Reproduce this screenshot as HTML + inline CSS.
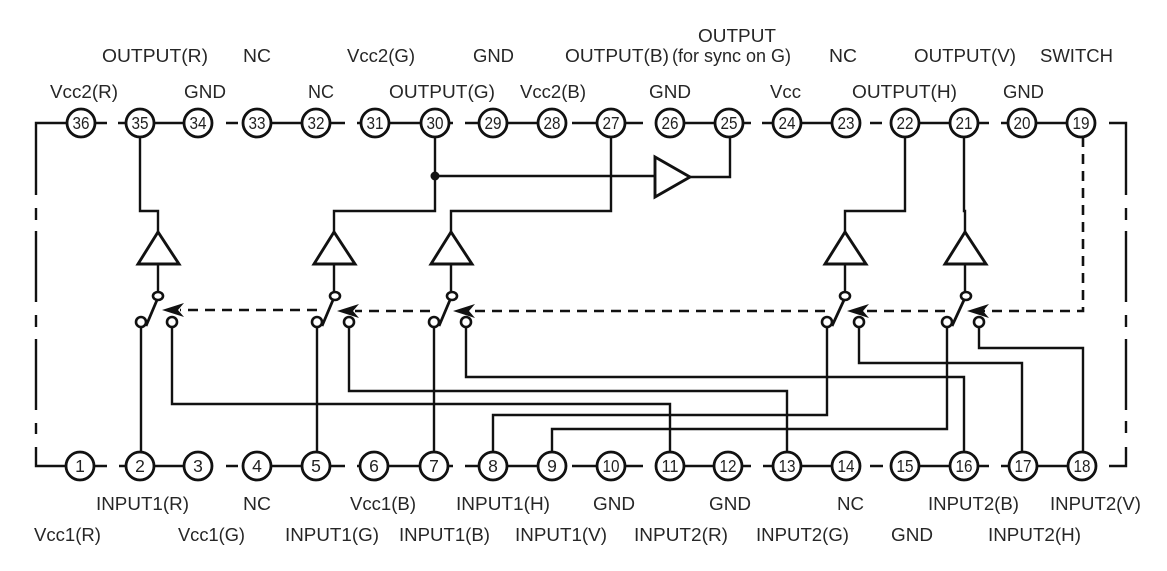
<!DOCTYPE html>
<html>
<head>
<meta charset="utf-8">
<style>
html,body{margin:0;padding:0;background:#fff;width:1167px;height:571px;overflow:hidden}
svg{display:block}
.l{font-family:"Liberation Sans",sans-serif;font-size:18px;fill:#262626}
.n{font-family:"Liberation Sans",sans-serif;font-size:17.5px;fill:#222;text-anchor:middle}
.w{fill:none;stroke:#111;stroke-width:2.4;stroke-linejoin:miter}
.c{fill:#fff;stroke:#111;stroke-width:2.8}
.k{fill:#fff;stroke:#111;stroke-width:2.6}
.t{fill:#fff;stroke:#111;stroke-width:2.9;stroke-linejoin:miter}
.a{fill:none;stroke:#111;stroke-width:2.8}
.d{fill:none;stroke:#111;stroke-width:2.6;stroke-dasharray:10 7}
</style>
</head>
<body>
<svg width="1167" height="571" viewBox="0 0 1167 571" xmlns="http://www.w3.org/2000/svg">
<!-- frame and pin rails -->
<path class="w" d="M36 195V123H107M118 123H198M226 123H238M257 123H345M357 123H453M465 123H566M572 123H643M670 123H751M762 123H846M870 123H882M905 123H989M1001 123H1081M1109 123H1126V195"/>
<path class="w" d="M1126 208V220M1126 231V302M1126 315V327M1126 339V410M1126 421V433M1126 447V466H1109"/>
<path class="w" d="M36 208V220M36 231V302M36 315V327M36 339V410M36 423V434M36 447V466H107M119 466H198M226 466H238M257 466H345M357 466H453M465 466H566M572 466H643M670 466H751M763 466H846M870 466H883M905 466H989M1001 466H1082"/>
<!-- output wiring -->
<path class="w" d="M140 123V211H158V232"/>
<path class="w" d="M435 123V211H334V232"/>
<path class="w" d="M611 123V211H451V232"/>
<path class="w" d="M905 123V211H845V232"/>
<path class="w" d="M964 123V211H965V232"/>
<path class="w" d="M435 176H655M690 177H730V123"/>
<circle cx="435" cy="176" r="4.5" fill="#111"/>
<!-- buffer to switch stems -->
<path class="w" d="M158 264V292M334 264V292M451 264V292M845 264V292M965 264V292"/>
<!-- switch arms -->
<path class="a" d="M157 300L146 326M333 300L322 326M450 300L439 326M844 300L832 326M964 300L952 326"/>
<!-- input wiring -->
<path class="w" d="M141 327V466"/>
<path class="w" d="M172 327V404H670V466"/>
<path class="w" d="M317 327V466"/>
<path class="w" d="M349 327V391H787V466"/>
<path class="w" d="M434 327V466"/>
<path class="w" d="M466 327V377H964V466"/>
<path class="w" d="M827 327V415H493V466"/>
<path class="w" d="M859 327V363H1022V466"/>
<path class="w" d="M947 327V429H552V466"/>
<path class="w" d="M979 327V348H1083V466"/>
<!-- buffers -->
<polygon class="t" points="158,232 138,264 179,264"/>
<polygon class="t" points="334,232 314,264 355,264"/>
<polygon class="t" points="451,232 431,264 472,264"/>
<polygon class="t" points="845,232 825,264 866,264"/>
<polygon class="t" points="965,232 945,264 986,264"/>
<polygon class="t" points="655,157 655,197 690,177"/>
<!-- switch contacts -->
<ellipse class="k" cx="158" cy="296" rx="5" ry="4"/>
<circle class="k" cx="141" cy="322" r="5"/>
<circle class="k" cx="172" cy="322" r="5"/>
<ellipse class="k" cx="335" cy="296" rx="5" ry="4"/>
<circle class="k" cx="317" cy="322" r="5"/>
<circle class="k" cx="349" cy="322" r="5"/>
<ellipse class="k" cx="452" cy="296" rx="5" ry="4"/>
<circle class="k" cx="434" cy="322" r="5"/>
<circle class="k" cx="466" cy="322" r="5"/>
<ellipse class="k" cx="845" cy="296" rx="5" ry="4"/>
<circle class="k" cx="827" cy="322" r="5"/>
<circle class="k" cx="859" cy="322" r="5"/>
<ellipse class="k" cx="966" cy="296" rx="5" ry="4"/>
<circle class="k" cx="947" cy="322" r="5"/>
<circle class="k" cx="979" cy="322" r="5"/>
<!-- switch control, dashed -->
<path class="d" d="M1083 137V311H982"/>
<path class="d" d="M945 311H865"/>
<path class="d" d="M825 311H472"/>
<path class="d" d="M430 311H355"/>
<path class="d" d="M317 310H180"/>
<polygon fill="#111" points="162,310 184,303 178,310 184,317"/>
<polygon fill="#111" points="337,311 359,304 353,311 359,318"/>
<polygon fill="#111" points="453,311 475,304 469,311 475,318"/>
<polygon fill="#111" points="847,311 869,304 863,311 869,318"/>
<polygon fill="#111" points="967,311 989,304 983,311 989,318"/>
<!-- pins top -->
<g>
<circle class="c" cx="81" cy="123" r="14"/><circle class="c" cx="140" cy="123" r="14"/><circle class="c" cx="198" cy="123" r="14"/><circle class="c" cx="257" cy="123" r="14"/><circle class="c" cx="316" cy="123" r="14"/><circle class="c" cx="375" cy="123" r="14"/><circle class="c" cx="435" cy="123" r="14"/><circle class="c" cx="493" cy="123" r="14"/><circle class="c" cx="552" cy="123" r="14"/><circle class="c" cx="611" cy="123" r="14"/><circle class="c" cx="670" cy="123" r="14"/><circle class="c" cx="729" cy="123" r="14"/><circle class="c" cx="787" cy="123" r="14"/><circle class="c" cx="846" cy="123" r="14"/><circle class="c" cx="905" cy="123" r="14"/><circle class="c" cx="964" cy="123" r="14"/><circle class="c" cx="1022" cy="123" r="14"/><circle class="c" cx="1081" cy="123" r="14"/>
</g>
<!-- pins bottom -->
<g>
<circle class="c" cx="80" cy="466" r="14"/><circle class="c" cx="140" cy="466" r="14"/><circle class="c" cx="198" cy="466" r="14"/><circle class="c" cx="257" cy="466" r="14"/><circle class="c" cx="316" cy="466" r="14"/><circle class="c" cx="374" cy="466" r="14"/><circle class="c" cx="434" cy="466" r="14"/><circle class="c" cx="493" cy="466" r="14"/><circle class="c" cx="552" cy="466" r="14"/><circle class="c" cx="611" cy="466" r="14"/><circle class="c" cx="670" cy="466" r="14"/><circle class="c" cx="728" cy="466" r="14"/><circle class="c" cx="787" cy="466" r="14"/><circle class="c" cx="846" cy="466" r="14"/><circle class="c" cx="905" cy="466" r="14"/><circle class="c" cx="964" cy="466" r="14"/><circle class="c" cx="1023" cy="466" r="14"/><circle class="c" cx="1082" cy="466" r="14"/>
</g>
<!-- pin numbers -->
<g class="n">
<text x="81" y="129" textLength="17" lengthAdjust="spacingAndGlyphs">36</text>
<text x="140" y="129" textLength="17" lengthAdjust="spacingAndGlyphs">35</text>
<text x="198" y="129" textLength="17" lengthAdjust="spacingAndGlyphs">34</text>
<text x="257" y="129" textLength="17" lengthAdjust="spacingAndGlyphs">33</text>
<text x="316" y="129" textLength="17" lengthAdjust="spacingAndGlyphs">32</text>
<text x="375" y="129" textLength="17" lengthAdjust="spacingAndGlyphs">31</text>
<text x="435" y="129" textLength="17" lengthAdjust="spacingAndGlyphs">30</text>
<text x="493" y="129" textLength="17" lengthAdjust="spacingAndGlyphs">29</text>
<text x="552" y="129" textLength="17" lengthAdjust="spacingAndGlyphs">28</text>
<text x="611" y="129" textLength="17" lengthAdjust="spacingAndGlyphs">27</text>
<text x="670" y="129" textLength="17" lengthAdjust="spacingAndGlyphs">26</text>
<text x="729" y="129" textLength="17" lengthAdjust="spacingAndGlyphs">25</text>
<text x="787" y="129" textLength="17" lengthAdjust="spacingAndGlyphs">24</text>
<text x="846" y="129" textLength="17" lengthAdjust="spacingAndGlyphs">23</text>
<text x="905" y="129" textLength="17" lengthAdjust="spacingAndGlyphs">22</text>
<text x="964" y="129" textLength="17" lengthAdjust="spacingAndGlyphs">21</text>
<text x="1022" y="129" textLength="17" lengthAdjust="spacingAndGlyphs">20</text>
<text x="1081" y="129" textLength="17" lengthAdjust="spacingAndGlyphs">19</text>
<text x="80" y="472">1</text>
<text x="140" y="472">2</text>
<text x="198" y="472">3</text>
<text x="257" y="472">4</text>
<text x="316" y="472">5</text>
<text x="374" y="472">6</text>
<text x="434" y="472">7</text>
<text x="493" y="472">8</text>
<text x="552" y="472">9</text>
<text x="611" y="472" textLength="17" lengthAdjust="spacingAndGlyphs">10</text>
<text x="670" y="472" textLength="17" lengthAdjust="spacingAndGlyphs">11</text>
<text x="728" y="472" textLength="17" lengthAdjust="spacingAndGlyphs">12</text>
<text x="787" y="472" textLength="17" lengthAdjust="spacingAndGlyphs">13</text>
<text x="846" y="472" textLength="17" lengthAdjust="spacingAndGlyphs">14</text>
<text x="905" y="472" textLength="17" lengthAdjust="spacingAndGlyphs">15</text>
<text x="964" y="472" textLength="17" lengthAdjust="spacingAndGlyphs">16</text>
<text x="1023" y="472" textLength="17" lengthAdjust="spacingAndGlyphs">17</text>
<text x="1082" y="472" textLength="17" lengthAdjust="spacingAndGlyphs">18</text>
</g>
<!-- top labels -->
<g class="l">
<text x="698" y="42" textLength="78" lengthAdjust="spacingAndGlyphs">OUTPUT</text>
<text x="102" y="62" textLength="106" lengthAdjust="spacingAndGlyphs">OUTPUT(R)</text>
<text x="243" y="62" textLength="28" lengthAdjust="spacingAndGlyphs">NC</text>
<text x="347" y="62" textLength="68" lengthAdjust="spacingAndGlyphs">Vcc2(G)</text>
<text x="473" y="62" textLength="41" lengthAdjust="spacingAndGlyphs">GND</text>
<text x="565" y="62" textLength="104" lengthAdjust="spacingAndGlyphs">OUTPUT(B)</text>
<text x="672" y="62" textLength="119" lengthAdjust="spacingAndGlyphs">(for sync on G)</text>
<text x="829" y="62" textLength="28" lengthAdjust="spacingAndGlyphs">NC</text>
<text x="914" y="62" textLength="102" lengthAdjust="spacingAndGlyphs">OUTPUT(V)</text>
<text x="1040" y="62" textLength="73" lengthAdjust="spacingAndGlyphs">SWITCH</text>
<text x="50" y="98" textLength="68" lengthAdjust="spacingAndGlyphs">Vcc2(R)</text>
<text x="184" y="98" textLength="42" lengthAdjust="spacingAndGlyphs">GND</text>
<text x="308" y="98" textLength="26" lengthAdjust="spacingAndGlyphs">NC</text>
<text x="389" y="98" textLength="106" lengthAdjust="spacingAndGlyphs">OUTPUT(G)</text>
<text x="520" y="98" textLength="66" lengthAdjust="spacingAndGlyphs">Vcc2(B)</text>
<text x="649" y="98" textLength="42" lengthAdjust="spacingAndGlyphs">GND</text>
<text x="770" y="98" textLength="31" lengthAdjust="spacingAndGlyphs">Vcc</text>
<text x="852" y="98" textLength="105" lengthAdjust="spacingAndGlyphs">OUTPUT(H)</text>
<text x="1003" y="98" textLength="41" lengthAdjust="spacingAndGlyphs">GND</text>
<!-- bottom labels -->
<text x="96" y="510" textLength="93" lengthAdjust="spacingAndGlyphs">INPUT1(R)</text>
<text x="243" y="510" textLength="28" lengthAdjust="spacingAndGlyphs">NC</text>
<text x="350" y="510" textLength="66" lengthAdjust="spacingAndGlyphs">Vcc1(B)</text>
<text x="456" y="510" textLength="94" lengthAdjust="spacingAndGlyphs">INPUT1(H)</text>
<text x="593" y="510" textLength="42" lengthAdjust="spacingAndGlyphs">GND</text>
<text x="709" y="510" textLength="42" lengthAdjust="spacingAndGlyphs">GND</text>
<text x="837" y="510" textLength="27" lengthAdjust="spacingAndGlyphs">NC</text>
<text x="928" y="510" textLength="91" lengthAdjust="spacingAndGlyphs">INPUT2(B)</text>
<text x="1050" y="510" textLength="91" lengthAdjust="spacingAndGlyphs">INPUT2(V)</text>
<text x="34" y="541" textLength="67" lengthAdjust="spacingAndGlyphs">Vcc1(R)</text>
<text x="178" y="541" textLength="67" lengthAdjust="spacingAndGlyphs">Vcc1(G)</text>
<text x="285" y="541" textLength="94" lengthAdjust="spacingAndGlyphs">INPUT1(G)</text>
<text x="399" y="541" textLength="91" lengthAdjust="spacingAndGlyphs">INPUT1(B)</text>
<text x="515" y="541" textLength="92" lengthAdjust="spacingAndGlyphs">INPUT1(V)</text>
<text x="634" y="541" textLength="94" lengthAdjust="spacingAndGlyphs">INPUT2(R)</text>
<text x="756" y="541" textLength="93" lengthAdjust="spacingAndGlyphs">INPUT2(G)</text>
<text x="891" y="541" textLength="42" lengthAdjust="spacingAndGlyphs">GND</text>
<text x="988" y="541" textLength="93" lengthAdjust="spacingAndGlyphs">INPUT2(H)</text>
</g>
</svg>
</body>
</html>
